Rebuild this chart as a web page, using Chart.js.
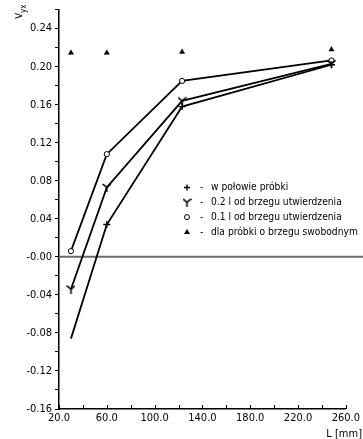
<!DOCTYPE html>
<html lang="pl">
<head>
  <meta charset="UTF-8">
  <title>v_yx</title>
  <script src="https://cdn.jsdelivr.net/npm/chart.js"></script>
  <style>
    body {
      margin: 0;
      background-color: #ffffff;
    }
    .wrap {
      width: 363px;
      height: 439px;
    }
  </style>
</head>
<body>
  <div class="wrap">
    <canvas id="vChart" width="363" height="439"></canvas>
  </div>

  <script>
    const FONT = "'DejaVu Sans Condensed', 'Liberation Sans Narrow', 'Arial Narrow', sans-serif";

    // L [mm]
    const lengths = [30, 60, 123, 248];

    // v_yx for each measuring position
    const halfSample = [-0.086, 0.034, 0.158, 0.202];
    const at02 = [-0.034, 0.073, 0.164, 0.203];
    const at01 = [0.006, 0.108, 0.185, 0.2065];
    const freeEdge = [0.2145, 0.2145, 0.2155, 0.218];

    const seriesNames = [
      'w połowie próbki',
      '0.2 l od brzegu utwierdzenia',
      '0.1 l od brzegu utwierdzenia',
      'dla próbki o brzegu swobodnym'
    ];

    const xTicks = [20, 60, 100, 140, 180, 220, 260];
    const yTicks = [-0.16, -0.12, -0.08, -0.04, 0, 0.04, 0.08, 0.12, 0.16, 0.20, 0.24];

    function toPoints(ys) {
      return lengths.map((x, i) => ({ x, y: ys[i] }));
    }

    // "Y" shaped marker
    function makeYMarker() {
      const c = document.createElement('canvas');
      c.width = 9;
      c.height = 9;
      const g = c.getContext('2d');
      g.strokeStyle = '#000';
      g.lineWidth = 1.6;
      g.beginPath();
      g.moveTo(0.5, 1);
      g.lineTo(4.5, 4.5);
      g.lineTo(8.5, 1);
      g.moveTo(4.5, 4);
      g.lineTo(4.5, 9);
      g.stroke();
      return c;
    }
    const yMarker = makeYMarker();

    function drawMarker(ctx, kind, x, y) {
      ctx.save();
      ctx.strokeStyle = '#000';
      ctx.fillStyle = '#000';
      ctx.lineWidth = 1.4;
      if (kind === 0) {
        ctx.beginPath();
        ctx.moveTo(x - 3, y); ctx.lineTo(x + 3, y);
        ctx.moveTo(x, y - 3); ctx.lineTo(x, y + 3);
        ctx.stroke();
      } else if (kind === 1) {
        ctx.drawImage(yMarker, x - 4.5, y - 4.5);
      } else if (kind === 2) {
        ctx.fillStyle = '#fff';
        ctx.lineWidth = 1;
        ctx.beginPath();
        ctx.arc(x, y, 2.5, 0, Math.PI * 2);
        ctx.fill();
        ctx.stroke();
      } else {
        ctx.beginPath();
        ctx.moveTo(x, y - 3);
        ctx.lineTo(x + 3, y + 2);
        ctx.lineTo(x - 3, y + 2);
        ctx.closePath();
        ctx.fill();
      }
      ctx.restore();
    }

    const extras = {
      id: 'extras',
      beforeDatasetsDraw(chart) {
        const { ctx, chartArea, scales } = chart;
        // zero line
        const y0 = scales.y.getPixelForValue(0);
        ctx.save();
        ctx.strokeStyle = '#6b6b6b';
        ctx.lineWidth = 2;
        ctx.beginPath();
        ctx.moveTo(chartArea.left, y0);
        ctx.lineTo(chart.width, y0);
        ctx.stroke();
        ctx.restore();
      },
      afterDraw(chart) {
        const { ctx, chartArea, scales } = chart;
        ctx.save();
        // x ticks pointing up
        ctx.strokeStyle = '#000';
        ctx.lineWidth = 1;
        for (let v = 20; v <= 260; v += 20) {
          const px = Math.round(scales.x.getPixelForValue(v)) + 0.5;
          ctx.beginPath();
          ctx.moveTo(px, chartArea.bottom);
          ctx.lineTo(px, chartArea.bottom - 4);
          ctx.stroke();
        }

        // axis titles
        ctx.fillStyle = '#000';
        ctx.font = '11px ' + FONT;
        ctx.textAlign = 'right';
        ctx.textBaseline = 'alphabetic';
        ctx.fillText('L [mm]', 362, 437);

        ctx.save();
        ctx.translate(22, 19);
        ctx.rotate(-Math.PI / 2);
        ctx.textAlign = 'left';
        ctx.font = '12px ' + FONT;
        ctx.fillText('v', 0, 0);
        ctx.font = '8px ' + FONT;
        ctx.fillText('yx', 6, 4);
        ctx.restore();

        // legend
        ctx.font = '10.2px ' + FONT;
        ctx.textAlign = 'left';
        ctx.textBaseline = 'middle';
        seriesNames.forEach((name, i) => {
          const ly = 187.5 + i * 14.8;
          drawMarker(ctx, i, 187, ly);
          ctx.fillText('-', 200, ly);
          ctx.fillText(name, 211, ly);
        });
        ctx.restore();
      }
    };

    const lineStyle = {
      borderColor: '#000',
      borderWidth: 1.8,
      showLine: true,
      tension: 0,
      pointBorderColor: '#000',
      pointBorderWidth: 1.3
    };

    new Chart(document.getElementById('vChart'), {
      type: 'scatter',
      data: {
        datasets: [
          {
            ...lineStyle,
            label: seriesNames[0],
            data: toPoints(halfSample),
            pointStyle: 'cross',
            pointRadius: [0, 3.5, 3.5, 3.5]
          },
          {
            ...lineStyle,
            label: seriesNames[1],
            data: toPoints(at02),
            pointStyle: yMarker,
            pointRadius: 4
          },
          {
            ...lineStyle,
            label: seriesNames[2],
            data: toPoints(at01),
            pointStyle: 'circle',
            pointRadius: 2.6,
            pointBackgroundColor: '#fff',
            pointBorderWidth: 1
          },
          {
            label: seriesNames[3],
            data: toPoints(freeEdge),
            showLine: false,
            pointStyle: 'triangle',
            pointRadius: 3,
            pointBackgroundColor: '#000',
            pointBorderColor: '#000',
            pointBorderWidth: 0.5
          }
        ]
      },
      options: {
        responsive: false,
        animation: false,
        layout: { padding: { top: 9, right: 16, left: 0, bottom: 0 } },
        plugins: {
          legend: { display: false },
          tooltip: { enabled: false }
        },
        scales: {
          x: {
            type: 'linear',
            min: 20,
            max: 260,
            afterFit(scale) { scale.height = 30; },
            afterBuildTicks(scale) {
              scale.ticks = xTicks.map(v => ({ value: v }));
            },
            grid: { display: false, drawTicks: false },
            border: { display: true, color: '#000', width: 1.5 },
            ticks: {
              autoSkip: false,
              maxRotation: 0,
              padding: 3,
              color: '#000',
              font: { family: FONT, size: 11 },
              callback: v => v.toFixed(1)
            }
          },
          y: {
            min: -0.16,
            max: 0.26,
            afterFit(scale) { scale.width = 59; },
            afterBuildTicks(scale) {
              const t = [];
              for (let k = -8; k <= 13; k++) t.push({ value: k * 0.02 });
              scale.ticks = t;
            },
            grid: {
              drawOnChartArea: false,
              drawTicks: true,
              tickLength: 4,
              color: '#000',
              lineWidth: 1
            },
            border: { display: true, color: '#000', width: 1.5 },
            ticks: {
              autoSkip: false,
              padding: 3,
              color: '#000',
              font: { family: FONT, size: 11 },
              callback: v => {
                const k = Math.round(v * 100);
                if (k % 4 !== 0) return '';
                if (k === 0) return '-0.00';
                return yTicks.includes(k / 100) ? (k / 100).toFixed(2) : '';
              }
            }
          }
        }
      },
      plugins: [extras]
    });
  </script>
</body>
</html>
